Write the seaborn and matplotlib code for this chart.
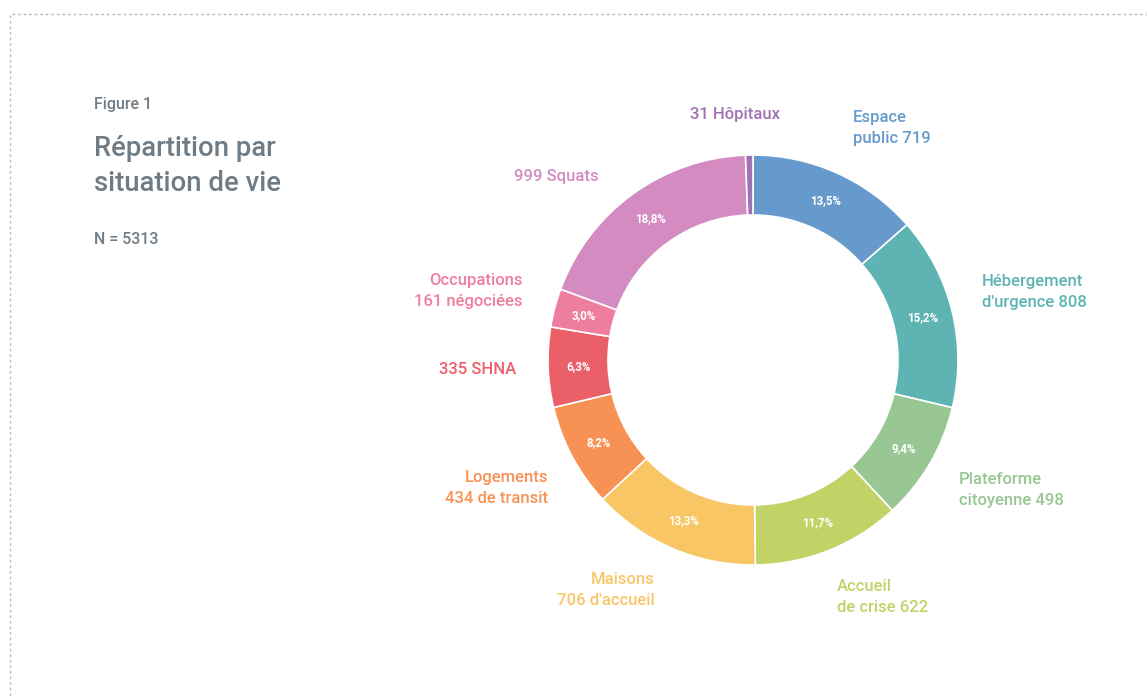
import matplotlib
matplotlib.use("Agg")
import matplotlib.pyplot as plt
import seaborn as sns
import numpy as np
from matplotlib.patches import Rectangle

sns.set_theme(style="white")
plt.rcParams['font.family'] = ['Roboto', 'DejaVu Sans']

# Data (clockwise from top)
categories = ["Espace public", "Hébergement d'urgence", "Plateforme citoyenne",
              "Accueil de crise", "Maisons d'accueil", "Logements de transit",
              "SHNA", "Occupations négociées", "Squats", "Hôpitaux"]
values = [719, 808, 498, 622, 706, 434, 335, 161, 999, 31]
label_texts = ["Espace\npublic 719", "Hébergement\nd'urgence 808", "Plateforme\ncitoyenne 498",
               "Accueil\nde crise 622", "Maisons\n706 d'accueil", "Logements\n434 de transit",
               "335 SHNA", "Occupations\n161 négociées", "999 Squats", "31 Hôpitaux"]
colors = ["#6699CC", "#5EB3B3", "#98C793", "#C1D266", "#F8C665", "#F79254",
          "#EB5F68", "#EE7E9E", "#D38BC1", "#A072B4"]

W, H = 1147, 697
fig = plt.figure(figsize=(W / 100, H / 100), dpi=100)
ax = fig.add_axes([0, 0, 1, 1])

cx, cy, R, ring = 753, H - 360, 205, 60
wedges, _ = ax.pie(values, colors=colors, startangle=90, counterclock=False,
                   center=(cx, cy), radius=R,
                   wedgeprops=dict(width=ring, edgecolor='white', linewidth=1.2))
ax.set_xlim(0, W)
ax.set_ylim(0, H)
ax.set_aspect('equal')
ax.axis('off')

total = sum(values)
ang = 90.0
for v in values:
    pct = v / total * 100
    mid = ang - v / total * 360 / 2
    ang -= v / total * 360
    if pct < 1:
        continue
    rr = R - ring / 2
    x = cx + rr * np.cos(np.radians(mid))
    y = cy + rr * np.sin(np.radians(mid))
    ax.text(x, y, f"{pct:.1f}%".replace('.', ','), color='white', fontsize=8.3,
            fontweight='bold', ha='center', va='center')

# external labels: (x, y_center_px, ha)
label_pos = [(853, 128, 'left'), (982, 292, 'left'), (959, 490, 'left'),
             (837, 597, 'left'), (655, 590, 'right'), (548, 488, 'right'),
             (516, 369, 'right'), (523, 291, 'right'), (599, 176, 'right'),
             (690, 115, 'left')]
for txt, (x, y, ha), c in zip(label_texts, label_pos, colors):
    ax.text(x, H - y, txt, color=c, fontsize=12, ha=ha, va='center',
            linespacing=1.45, fontweight='medium')

gray = "#6F7C86"
ax.text(94, H - 105, "Figure 1", color=gray, fontsize=11.5, va='center', fontweight='medium')
ax.text(94, H - 166, "Répartition par\nsituation de vie", color=gray, fontsize=19.8,
        va='center', linespacing=1.4, fontweight='medium')
ax.text(94, H - 240, "N = 5313", color=gray, fontsize=11.5, va='center', fontweight='medium')

fig.patches.append(Rectangle((10 / W, -0.1), 1.2, (H - 14) / H + 0.1,
                             transform=fig.transFigure, fill=False,
                             edgecolor='#BBBBBB', linewidth=1, linestyle=(0, (2, 2))))

fig.savefig("out.png", dpi=100, facecolor='white')
